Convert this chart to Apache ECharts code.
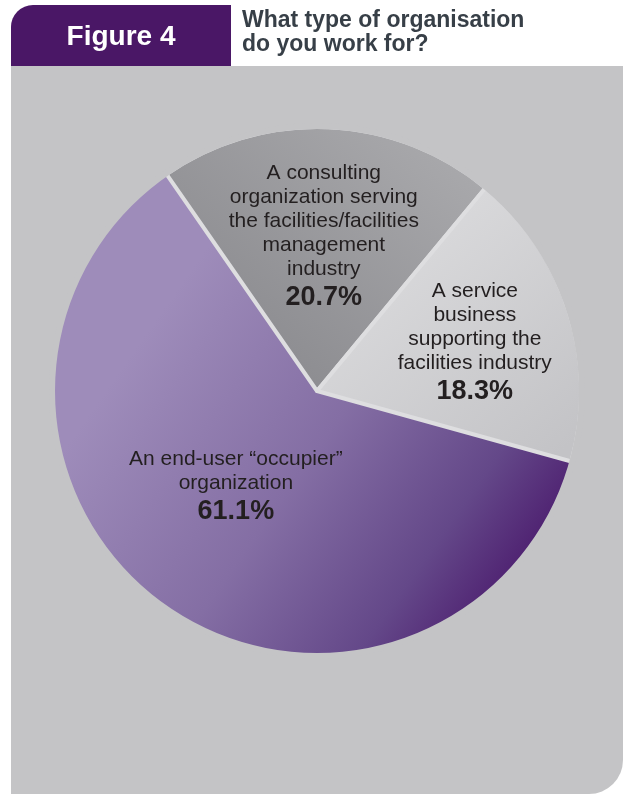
<!DOCTYPE html>
<html>
<head>
<meta charset="utf-8">
<script src="https://cdn.jsdelivr.net/npm/echarts@6/dist/echarts.min.js"></script>
<style>
  html, body { margin: 0; padding: 0; background: #ffffff; }
  #chart { width: 629px; height: 794px; }
</style>
</head>
<body>
<div id="chart"></div>
<script>
// Survey answers: organisation type of respondents (percent)
const categories = ['end-user', 'consulting', 'service'];
const labelLines = [
  ['An end-user \u201Coccupier\u201D', 'organization'],
  ['A consulting', 'organization serving', 'the facilities/facilities', 'management', 'industry'],
  ['A service', 'business', 'supporting the', 'facilities industry']
];
const shares = [61.1, 20.7, 18.3];

const figureLabel = 'Figure 4';
const question = 'What type of organisation\ndo you work for?';

const FONT = '"Liberation Sans", Arial, Helvetica, sans-serif';
const PANEL = '#c4c4c6';
// pie geometry: the slices are drawn slightly larger and their outer
// stroke is hidden under a panel-coloured ring, so only the radial
// separators stay visible
const CX = 317, CY = 391, R = 262, SEP = 4;

// slice fills
const fills = [
  { type: 'linear', x: 170, y: 300, x2: 545, y2: 565, global: true,
    colorStops: [
      { offset: 0, color: '#9e8cba' },
      { offset: 0.45, color: '#846ea4' },
      { offset: 0.78, color: '#644889' },
      { offset: 1, color: '#4a196c' }
    ] },
  { type: 'linear', x: 440, y: 150, x2: 260, y2: 360, global: true,
    colorStops: [
      { offset: 0, color: '#a8a8ab' },
      { offset: 1, color: '#8c8c90' }
    ] },
  { type: 'linear', x: 400, y: 230, x2: 575, y2: 440, global: true,
    colorStops: [
      { offset: 0, color: '#dadadc' },
      { offset: 1, color: '#c3c3c6' }
    ] }
];
// label nudges relative to the default inside position
const labelShift = [[-3, -14], [1, -19], [29, -7]];

const chart = echarts.init(document.getElementById('chart'), null, { renderer: 'canvas' });

chart.setOption({
  backgroundColor: '#ffffff',
  animation: false,
  graphic: [
    { type: 'rect', z: 0, shape: { x: 11, y: 66, width: 612, height: 728, r: [0, 0, 34, 0] },
      style: { fill: PANEL }, silent: true },
    { type: 'rect', z: 1, shape: { x: 11, y: 5, width: 220, height: 61, r: [22, 0, 0, 0] },
      style: { fill: '#4a1766' }, silent: true },
    { type: 'text', z: 2, x: 121, y: 37,
      style: { text: figureLabel, fill: '#ffffff', font: 'bold 28px ' + FONT,
               align: 'center', verticalAlign: 'middle' }, silent: true },
    { type: 'text', z: 2, x: 242, y: 9,
      style: { text: question, fill: '#373f47', font: 'bold 23px ' + FONT,
               lineHeight: 24, align: 'left', verticalAlign: 'top' }, silent: true },
    { type: 'ring', z: 10, shape: { cx: CX, cy: CY, r: R + SEP + 2, r0: R },
      style: { fill: PANEL }, silent: true }
  ],
  series: [{
    type: 'pie',
    center: [CX, CY],
    radius: [0, R + SEP / 2],
    startAngle: 344.5,
    clockwise: true,
    z: 3,
    silent: true,
    labelLine: { show: false },
    label: {
      show: true,
      position: 'inside',
      align: 'center',
      formatter: function (p) {
        const i = p.dataIndex;
        return labelLines[i].map(function (t) { return '{n|' + t + '}'; }).join('\n') +
          '\n{v|' + shares[i].toFixed(1) + '%}';
      },
      rich: {
        n: { fontFamily: FONT, fontSize: 21, lineHeight: 24, color: '#231f20' },
        v: { fontFamily: FONT, fontSize: 27, fontWeight: 'bold', lineHeight: 32, color: '#231f20' }
      }
    },
    labelLayout: function (params) {
      const s = labelShift[params.dataIndex];
      return { dx: s[0], dy: s[1] };
    },
    data: categories.map(function (c, i) {
      return {
        name: c,
        value: shares[i],
        itemStyle: {
          color: fills[i],
          borderColor: '#dedee0',
          borderWidth: i === 0 ? 0 : SEP
        }
      };
    })
  }]
});
</script>
</body>
</html>
